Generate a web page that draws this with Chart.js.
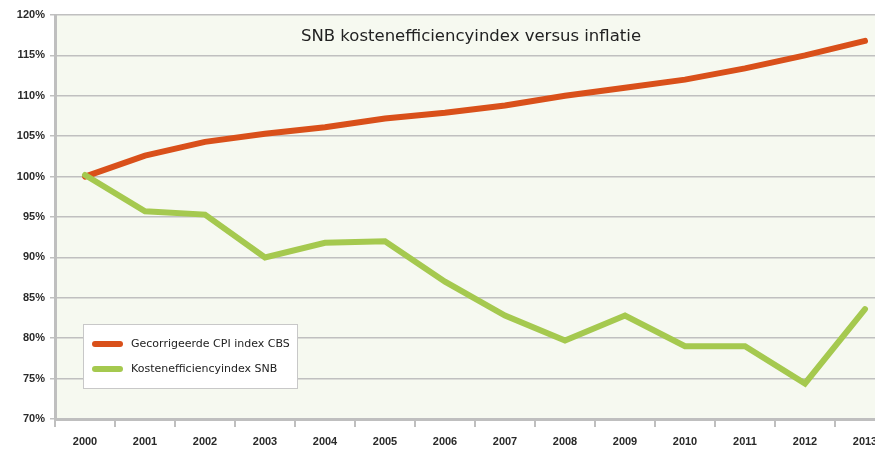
<!DOCTYPE html>
<html>
<head>
<meta charset="utf-8">
<script src="https://cdn.jsdelivr.net/npm/chart.js@4"></script>
<style>
    html, body { margin: 0; padding: 0; background: #fff; overflow: hidden; }
    #wrap { width: 900px; height: 449px; }
</style>
</head>
<body>
<div id="wrap"><canvas id="chart" width="900" height="449"></canvas></div>
<script>
const years = ["2000", "2001", "2002", "2003", "2004", "2005", "2006", "2007", "2008", "2009", "2010", "2011", "2012", "2013"];
const cpi = [100, 102.6, 104.3, 105.3, 106.1, 107.2, 107.9, 108.8, 110.0, 111.0, 112.0, 113.4, 115.0, 116.8];
const snb = [100.2, 95.7, 95.3, 90.0, 91.8, 92.0, 87.0, 82.8, 79.7, 82.8, 79.0, 79.0, 74.4, 83.6];
const chartTitle = "SNB kostenefficiencyindex versus inflatie";

const orange = "#D9501A";
const green = "#A5C94F";

// plot background + title inside plot area
const plotBg = {
    id: "plotBg",
    beforeDraw(chart) {
        let { ctx, chartArea: a } = chart;
        ctx.save();
        ctx.fillStyle = "#F6F9F0";
        ctx.fillRect(a.left, a.top, a.right - a.left, a.bottom - a.top);
        ctx.restore();
    },
    afterDatasetsDraw(chart) {
        let ctx = chart.ctx;
        ctx.save();
        ctx.font = "16.5px 'DejaVu Sans'";
        ctx.fillStyle = "#222";
        ctx.textAlign = "center";
        ctx.textBaseline = "middle";
        ctx.fillText(chartTitle, 471, 37);
        ctx.restore();
    }
};

// boxed legend at lower left of the plot
const boxLegend = {
    id: "boxLegend",
    afterDatasetsDraw(chart) {
        let ctx = chart.ctx;
        let x = 83, y = 324, w = 214, h = 64;
        ctx.save();
        ctx.fillStyle = "#fff";
        ctx.fillRect(x, y, w, h);
        ctx.strokeStyle = "#C8C8C8";
        ctx.lineWidth = 1;
        ctx.strokeRect(x + 0.5, y + 0.5, w, h);
        ctx.font = "11px 'DejaVu Sans'";
        ctx.textBaseline = "middle";
        chart.data.datasets.forEach((ds, i) => {
            let ly = y + 20 + i * 25;
            ctx.strokeStyle = ds.borderColor;
            ctx.lineWidth = 6;
            ctx.lineCap = "round";
            ctx.beginPath();
            ctx.moveTo(95, ly);
            ctx.lineTo(120, ly);
            ctx.stroke();
            ctx.fillStyle = "#222";
            ctx.fillText(ds.label, 131, ly);
        });
        ctx.restore();
    }
};

new Chart(document.getElementById("chart"), {
    type: "line",
    data: {
        labels: years,
        datasets: [
            {
                label: "Gecorrigeerde CPI index CBS",
                data: cpi,
                borderColor: orange,
                borderWidth: 6,
                borderCapStyle: "round",
                pointRadius: 0,
                tension: 0,
                order: 1
            },
            {
                label: "Kostenefficiencyindex SNB",
                data: snb,
                borderColor: green,
                borderWidth: 6,
                borderCapStyle: "round",
                pointRadius: 0,
                tension: 0,
                order: 0
            }
        ]
    },
    options: {
        responsive: false,
        animation: false,
        layout: { padding: { top: 15, right: 5, left: 0, bottom: 0 } },
        plugins: {
            legend: { display: false },
            tooltip: { enabled: false }
        },
        scales: {
            x: {
                offset: true,
                grid: { offset: true, drawOnChartArea: false, drawTicks: true, tickLength: 8, color: "#BFBFBF", lineWidth: 2 },
                border: { color: "#BFBFBF", width: 3 },
                ticks: { color: "#2a2a2a", font: { family: "Liberation Sans", size: 11, weight: "bold" }, padding: 8, maxRotation: 0 },
                afterFit(scale) { scale.height = 30; }
            },
            y: {
                min: 70,
                max: 120,
                ticks: {
                    stepSize: 5,
                    color: "#2a2a2a",
                    font: { family: "Liberation Sans", size: 11, weight: "bold" },
                    padding: 5,
                    callback: v => v + "%"
                },
                grid: { color: "#C0C0C0", lineWidth: 1.5, tickLength: 5 },
                border: { color: "#BFBFBF", width: 3 },
                afterFit(scale) { scale.width = 55; }
            }
        }
    },
    plugins: [plotBg, boxLegend]
});
</script>
</body>
</html>
